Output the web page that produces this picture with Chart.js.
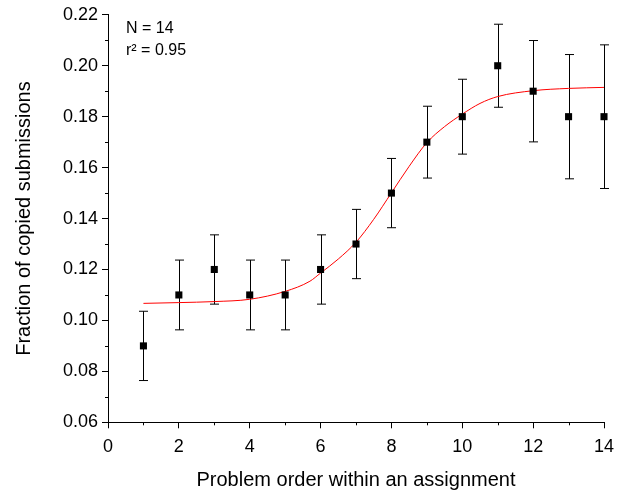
<!DOCTYPE html>
<html>
<head>
<meta charset="utf-8">
<script src="https://cdn.jsdelivr.net/npm/chart.js@4"></script>
<style>
  body { margin: 0; background: #fff; }
  #chart { display: block; }
</style>
</head>
<body>
<canvas id="chart" width="626" height="495"></canvas>
<script>
const problemOrder = [1, 2, 3, 4, 5, 6, 7, 8, 9, 10, 11, 12, 13, 14];
const fraction = [0.09, 0.11, 0.12, 0.11, 0.11, 0.12, 0.13, 0.15, 0.17, 0.18, 0.20, 0.19, 0.18, 0.18];
const errors = [0.0136, 0.0137, 0.0136, 0.0137, 0.0137, 0.0136, 0.0136, 0.0136, 0.0141, 0.0147, 0.0163, 0.0199, 0.0244, 0.0282];

// fitted sigmoid
const fitX = [1, 2, 3, 4, 5, 5.7, 6, 6.5, 7, 7.5, 8, 8.5, 9, 9.5, 10, 10.5, 11, 12, 13, 14];
const fitY = [0.1067, 0.1070, 0.1074, 0.1083, 0.1114, 0.1154, 0.1186, 0.1241, 0.1307, 0.1397, 0.1501, 0.1605, 0.1698, 0.1761, 0.1810, 0.1852, 0.1879, 0.1902, 0.1911, 0.1915];

const yMinorTicks = [0.07, 0.09, 0.11, 0.13, 0.15, 0.17, 0.19, 0.21];
const xMinorTicks = [1, 3, 5, 7, 9, 11, 13];
const notes = ["N = 14", "r\u00B2 = 0.95"];

const font = "'Liberation Sans', Arial, sans-serif";

const extras = {
  id: "extras",
  beforeDatasetsDraw(chart) {
    const ctx = chart.ctx;
    const xs = chart.scales.x;
    const ys = chart.scales.y;
    ctx.save();
    ctx.strokeStyle = "#000";
    ctx.lineWidth = 1;
    problemOrder.forEach((x, i) => {
      const px = Math.round(xs.getPixelForValue(x)) + 0.5;
      const top = ys.getPixelForValue(fraction[i] + errors[i]);
      const bot = ys.getPixelForValue(fraction[i] - errors[i]);
      ctx.beginPath();
      ctx.moveTo(px, top);
      ctx.lineTo(px, bot);
      ctx.moveTo(px - 4.5, top);
      ctx.lineTo(px + 4.5, top);
      ctx.moveTo(px - 4.5, bot);
      ctx.lineTo(px + 4.5, bot);
      ctx.stroke();
    });
    ctx.restore();
  },
  afterDraw(chart) {
    const ctx = chart.ctx;
    const xs = chart.scales.x;
    const ys = chart.scales.y;
    const area = chart.chartArea;
    ctx.save();
    ctx.strokeStyle = "#000";
    ctx.lineWidth = 1;
    ctx.beginPath();
    yMinorTicks.forEach(v => {
      const py = Math.round(ys.getPixelForValue(v)) + 0.5;
      ctx.moveTo(area.left - 3, py);
      ctx.lineTo(area.left, py);
    });
    xMinorTicks.forEach(v => {
      const px = Math.round(xs.getPixelForValue(v)) + 0.5;
      ctx.moveTo(px, area.bottom);
      ctx.lineTo(px, area.bottom + 3);
    });
    ctx.stroke();

    ctx.fillStyle = "#000";
    ctx.font = "16px " + font;
    ctx.textBaseline = "alphabetic";
    ctx.fillText(notes[0], 126, 32.5);
    ctx.fillText(notes[1], 126, 55);
    ctx.restore();
  }
};

const chart = new Chart(document.getElementById("chart"), {
  type: "scatter",
  data: {
    datasets: [
      {
        label: "Fraction",
        data: problemOrder.map((x, i) => ({ x: x, y: fraction[i] })),
        pointStyle: "rect",
        pointRadius: 5,
        pointHoverRadius: 5,
        backgroundColor: "#000",
        borderWidth: 0,
        clip: false,
      },
      {
        type: "line",
        label: "Fit",
        data: fitX.map((x, i) => ({ x: x, y: fitY[i] })),
        borderColor: "#ff0000",
        borderWidth: 1,
        pointRadius: 0,
        fill: false,
        clip: false,
        cubicInterpolationMode: "monotone",
      },
    ],
  },
  options: {
    responsive: false,
    animation: false,
    events: [],
    layout: { padding: { left: 0, top: 12.7, right: 22, bottom: 0 } },
    plugins: { legend: { display: false }, tooltip: { enabled: false } },
    scales: {
      x: {
        type: "linear",
        min: 0,
        max: 14,
        ticks: {
          stepSize: 2,
          color: "#000",
          font: { family: font, size: 18 },
          padding: 8,
          maxRotation: 0,
        },
        grid: { drawOnChartArea: false, tickLength: 6, tickColor: "#000" },
        border: { color: "#000", width: 1 },
        title: {
          display: true,
          text: "Problem order within an assignment",
          color: "#000",
          font: { family: font, size: 20 },
          padding: { top: 0, bottom: 3 },
        },
        afterFit(scale) { scale.height = 72.7; },
      },
      y: {
        min: 0.06,
        max: 0.22,
        ticks: {
          stepSize: 0.02,
          color: "#000",
          font: { family: font, size: 18 },
          padding: 4,
          callback: v => v.toFixed(2),
        },
        grid: { drawOnChartArea: false, tickLength: 6, tickColor: "#000" },
        border: { color: "#000", width: 1 },
        title: {
          display: true,
          text: "Fraction of copied submissions",
          color: "#000",
          font: { family: font, size: 20 },
          padding: { top: 12, bottom: 0 },
        },
        afterFit(scale) { scale.width = 108; },
      },
    },
  },
  plugins: [extras],
});
</script>
</body>
</html>
